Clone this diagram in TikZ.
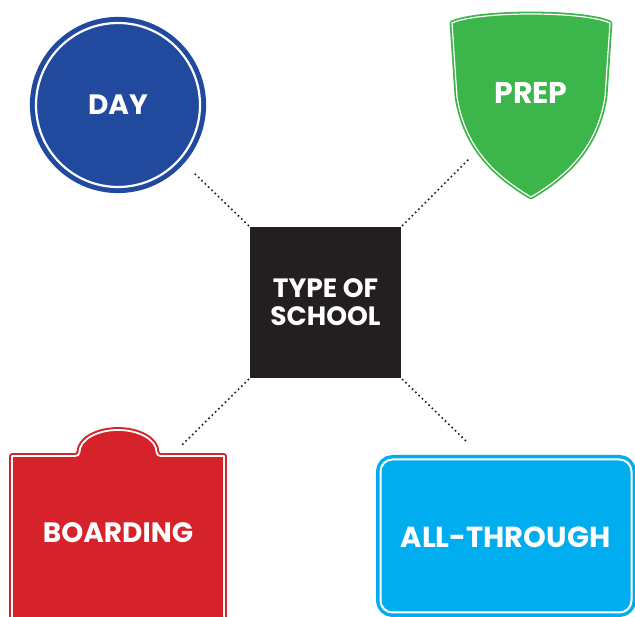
\documentclass[tikz,border=0pt]{standalone}
\usepackage{fontspec}
\setmainfont{Poppins}[BoldFont={Poppins Bold}]
\usepackage{tikz}
\definecolor{dayblue}{RGB}{33,74,159}
\definecolor{prepgreen}{RGB}{60,181,74}
\definecolor{boardred}{RGB}{214,34,42}
\definecolor{throughblue}{RGB}{0,173,239}
\definecolor{boxblack}{RGB}{35,31,32}
\begin{document}
\begin{tikzpicture}[line cap=round,line join=round,x=1pt,y=1pt,
    badge/.style={draw=#1,fill=#1,double=white,double distance=1.8pt,line width=2pt},
    badgetext/.style={text=white,font=\bfseries\fontsize{#1}{#1}\selectfont},
    dots/.style={color=boxblack,line width=2.3pt,dash pattern=on 0pt off 4.6pt,shorten <=2pt}]
        \useasboundingbox (0,0) rectangle (635,617);
        \clip (0,0) rectangle (635,617);
        \draw[badge=dayblue,line width=5pt,double distance=2.2pt] (118,512) circle (82);
        \node[badgetext=28] (day) at (118,512) {DAY};
        \draw[badge=prepgreen,line width=1.8pt,double distance=1.2pt] (452,594) .. controls (478,606) and (584,606) .. (610,594) -- (605,520) .. controls (597,470) and (568,442) .. (531,420) .. controls (494,442) and (465,470) .. (457,520) -- cycle;
        \node[badgetext=30] (prep) at (531,524) {PREP};
        \draw[badge=boardred] (12,-10) -- (12,161) -- (75,161) .. controls (78,161) and (79,162) .. (79.5,165) arc (180:0:38.5 and 22) .. controls (157,162) and (158,161) .. (161,161) -- (224,161) -- (224,-10) -- cycle;
        \node[badgetext=28] (boarding) at (118,84) {BOARDING};
        \draw[badge=throughblue,line width=3.5pt,double distance=2pt,rounded corners=12pt] (380.5,4.5) rectangle (631.5,157.5);
        \node[badgetext=29] (through) at (505.5,80) {ALL-THROUGH};
        \node[fill=boxblack,minimum size=151pt,inner sep=0pt,align=center,text=white,font=\bfseries\fontsize{26.5}{28}\selectfont] (type) at (325.5,314.5) {TYPE OF\\SCHOOL};
        \coordinate (day-end) at (193,445);
        \coordinate (prep-end) at (468,457);
        \coordinate (board-end) at (182,172);
        \coordinate (through-end) at (467,175);
        \draw[dots] (type.north west) -- (day-end);
        \draw[dots] (type.north east) -- (prep-end);
        \draw[dots] (type.south west) -- (board-end);
        \draw[dots] (type.south east) -- (through-end);
\end{tikzpicture}
\end{document}
